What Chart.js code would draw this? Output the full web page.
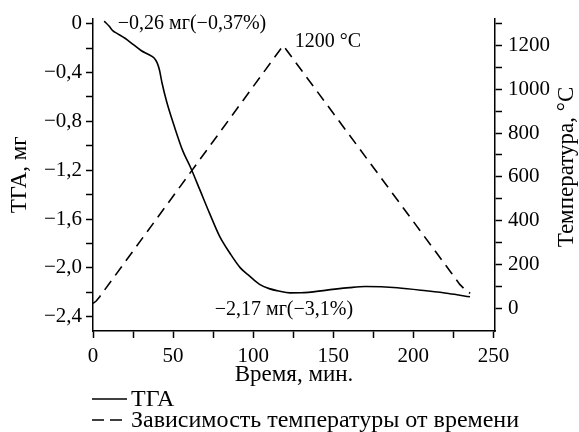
<!DOCTYPE html>
<html>
<head>
<meta charset="utf-8">
<script src="https://cdn.jsdelivr.net/npm/chart.js@4.4.1/dist/chart.umd.min.js"></script>
<style>
body { margin: 0; background: #fff; }
#wrap { width: 579px; height: 432px; }
</style>
</head>
<body>
<div id="wrap"><canvas id="grafico" width="579" height="432"></canvas></div>
<script>
// datos
const tgaTime = [7, 10, 12.5, 15, 20, 25, 30, 35, 38, 40, 41.5, 43, 46, 51, 56, 61, 67, 73, 79, 85.5, 92, 98, 104, 110, 116, 123, 130, 146, 160, 170, 180, 190, 208, 222, 235.4];
const tgaMass = [0.02, -0.02, -0.06, -0.08, -0.12, -0.17, -0.22, -0.255, -0.28, -0.32, -0.38, -0.48, -0.64, -0.85, -1.04, -1.18, -1.37, -1.56, -1.74, -1.88, -2.0, -2.07, -2.135, -2.17, -2.19, -2.205, -2.204, -2.182, -2.162, -2.153, -2.155, -2.163, -2.188, -2.21, -2.237];
const tempTime = [0, 2, 4.2, 118.75, 224, 229, 232, 235.5];
const tempValue = [21, 32, 52, 1200, 158, 108, 86, 67];

const seriesNames = ['ТГА', 'Зависимость температуры от времени'];

const timeTicks = [0, 25, 50, 75, 100, 125, 150, 175, 200, 225, 250];
const timeLabels = ['0', '', '50', '', '100', '', '150', '', '200', '', '250'];
const massTicks = [0, -0.2, -0.4, -0.6, -0.8, -1.0, -1.2, -1.4, -1.6, -1.8, -2.0, -2.2, -2.4];
const massLabels = ['0', '', '−0,4', '', '−0,8', '', '−1,2', '', '−1,6', '', '−2,0', '', '−2,4'];
const tempTicks = [0, 100, 200, 300, 400, 500, 600, 700, 800, 900, 1000, 1100, 1200, 1300];
const tempLabels = ['0', '', '200', '', '400', '', '600', '', '800', '', '1000', '', '1200', ''];

const notes = [
    { text: '−0,26 мг(−0,37%)', x: 15.5, y: 0, axis: 'y' },
    { text: '1200 °C', x: 126, y: 1215, axis: 'y1' },
    { text: '−2,17 мг(−3,1%)', x: 76, y: -2.345, axis: 'y' }
];

const fuente = { family: 'Liberation Serif', size: 21 };
const fuenteTitulo = { family: 'Liberation Serif', size: 23 };
const negro = '#000';

const extras = {
    id: 'extras',
    afterDraw(chart) {
        const ctx = chart.ctx;
        ctx.save();
        ctx.fillStyle = negro;
        ctx.strokeStyle = negro;
        ctx.textBaseline = 'middle';

        // anotaciones
        ctx.font = '20px "Liberation Serif"';
        ctx.textAlign = 'left';
        notes.forEach(n => {
            const px = chart.scales.x.getPixelForValue(n.x);
            const py = chart.scales[n.axis].getPixelForValue(n.y);
            ctx.fillText(n.text, px, py);
        });

        // leyenda
        ctx.font = '24px "Liberation Serif"';
        chart.data.datasets.forEach((ds, i) => {
            const y = 399 + i * 21;
            ctx.lineWidth = ds.borderWidth;
            ctx.setLineDash(i ? [12, 6] : []);
            ctx.beginPath();
            ctx.moveTo(92, y);
            ctx.lineTo(127, y);
            ctx.stroke();
            ctx.setLineDash([]);
            ctx.fillText(ds.label, 131, y + 1);
        });

        // titulo del eje derecho
        ctx.font = '23px "Liberation Serif"';
        ctx.translate(567, 167);
        ctx.rotate(-Math.PI / 2);
        ctx.textAlign = 'center';
        ctx.fillText('Температура, °С', 0, 0);
        ctx.restore();
    }
};

function ejeComun(valores, etiquetas) {
    return {
        afterBuildTicks: s => { s.ticks = valores.map(v => ({ value: v })); },
        ticks: {
            autoSkip: false,
            maxRotation: 0,
            color: negro,
            font: fuente,
            callback: (v, i) => etiquetas[i]
        },
        grid: { drawOnChartArea: false, tickLength: 7, tickColor: negro, tickWidth: 1.5 },
        border: { color: negro, width: 1.5 }
    };
}

const ejeX = ejeComun(timeTicks, timeLabels);
ejeX.type = 'linear';
ejeX.min = 0;
ejeX.max = 251;
ejeX.afterFit = s => { s.height = 58; };
ejeX.ticks.padding = 6;
ejeX.title = { display: true, text: 'Время, мин.', color: negro, font: fuenteTitulo, padding: 0 };

const ejeY = ejeComun(massTicks, massLabels);
ejeY.position = 'left';
ejeY.min = -2.517;
ejeY.max = 0.041;
ejeY.afterFit = s => { s.width = 87; };
ejeY.ticks.padding = 4;
ejeY.title = { display: true, text: 'ТГА, мг', color: negro, font: fuenteTitulo, padding: 0 };

const ejeY1 = ejeComun(tempTicks, tempLabels);
ejeY1.position = 'right';
ejeY1.min = -105;
ejeY1.max = 1323;
ejeY1.afterFit = s => { s.width = 84; };
ejeY1.ticks.padding = 6;

new Chart(document.getElementById('grafico').getContext('2d'), {
    type: 'line',
    data: {
        datasets: [{
            label: seriesNames[0],
            data: tgaTime.map((t, i) => ({ x: t, y: tgaMass[i] })),
            yAxisID: 'y',
            borderColor: negro,
            borderWidth: 1.6,
            cubicInterpolationMode: 'monotone',
            pointRadius: 0,
            fill: false
        }, {
            label: seriesNames[1],
            data: tempTime.map((t, i) => ({ x: t, y: tempValue[i] })),
            yAxisID: 'y1',
            borderColor: negro,
            borderWidth: 1.6,
            borderDash: [11, 7],
            tension: 0,
            pointRadius: 0,
            fill: false
        }]
    },
    options: {
        responsive: false,
        animation: false,
        devicePixelRatio: 1,
        layout: { padding: { left: 6, top: 18, right: 0, bottom: 43 } },
        plugins: { legend: { display: false }, tooltip: { enabled: false } },
        scales: { x: ejeX, y: ejeY, y1: ejeY1 }
    },
    plugins: [extras]
});
</script>
</body>
</html>
